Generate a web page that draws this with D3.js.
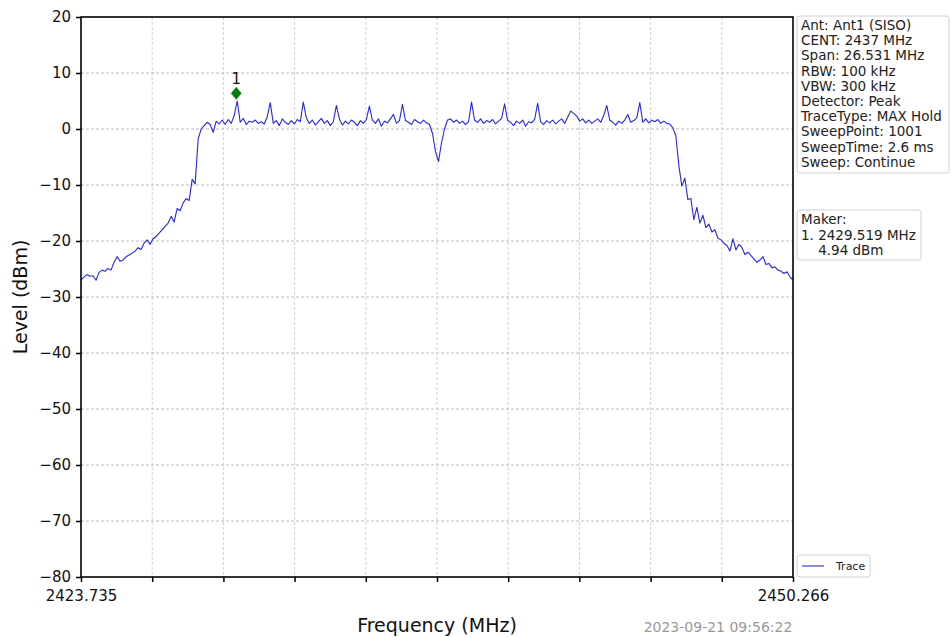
<!DOCTYPE html>
<html><head><meta charset="utf-8">
<script src="https://cdn.jsdelivr.net/npm/d3@7"></script>
<style>body{margin:0;background:#fff;} svg{display:block;font-family:"DejaVu Sans",sans-serif;}</style>
</head><body>
<svg id="chart" width="951" height="637"></svg>
<script>
const freqStart = 2423.735;
const freqStop = 2450.266;
const yTicks = [20, 10, 0, -10, -20, -30, -40, -50, -60, -70, -80];
const xTickCount = 10;
const xTickLabels = ["2423.735", "2450.266"];
const levels = [
 -27.0,-26.4,-26.0,-26.3,-26.2,-27.0,-25.6,-25.2,-25.4,-24.9,
 -25.2,-23.8,-22.8,-23.6,-23.4,-22.8,-22.5,-22.2,-21.8,-21.2,
 -21.5,-20.4,-19.8,-20.6,-19.6,-19.2,-18.6,-18.0,-17.4,-16.8,
 -15.6,-16.6,-14.2,-14.6,-13.2,-12.4,-12.8,-9.0,-9.8,-1.8,
 0.0,0.6,1.2,0.8,-0.6,1.4,0.9,1.6,0.8,1.7,
 1.0,2.4,5.0,1.2,1.9,0.8,1.4,1.2,1.6,1.0,
 1.3,0.9,2.2,4.7,1.0,1.5,0.6,1.8,1.2,0.8,
 1.5,0.9,1.7,1.3,4.8,2.0,1.0,1.6,0.7,1.3,
 1.9,1.0,1.5,0.6,1.3,4.2,1.8,0.7,1.4,0.9,
 1.6,1.2,0.6,1.5,1.0,1.7,4.1,1.6,1.0,1.8,
 0.5,1.4,1.1,1.8,2.6,1.0,1.5,4.4,1.5,1.2,
 0.8,1.7,1.3,1.0,1.6,1.1,0.8,-0.8,-4.0,-5.8,
 -2.5,0.0,1.6,1.8,1.2,1.6,1.0,1.4,0.8,1.3,
 4.8,1.6,1.2,1.8,1.0,1.5,1.2,1.7,0.9,1.4,
 1.9,4.5,1.5,1.2,0.6,1.4,1.0,1.6,0.5,1.3,
 1.1,1.7,4.6,1.3,0.8,1.5,1.1,1.6,0.9,1.4,
 1.8,1.0,2.1,3.2,2.8,2.3,1.4,1.8,1.1,1.6,
 1.0,1.4,1.8,1.2,2.4,4.2,1.6,1.2,0.7,1.4,
 1.0,1.6,2.6,1.2,1.5,2.0,4.7,1.2,1.8,1.1,
 1.6,1.3,1.7,1.0,1.4,1.0,0.9,0.2,-1.2,-6.5,
 -10.2,-8.8,-12.6,-12.4,-16.2,-14.0,-16.8,-15.4,-17.6,-17.0,
 -18.4,-18.0,-19.5,-19.8,-20.4,-20.8,-21.8,-19.6,-21.6,-20.6,
 -21.2,-22.4,-22.0,-22.6,-23.2,-23.8,-23.4,-22.8,-24.2,-24.0,
 -24.8,-24.6,-25.2,-25.4,-25.8,-25.5,-26.4,-27.0
];
const markerFreq = 2429.519;
const markerLevel = 4.94;
const infoLines = ["Ant: Ant1 (SISO)","CENT: 2437 MHz","Span: 26.531 MHz","RBW: 100 kHz","VBW: 300 kHz","Detector: Peak","TraceType: MAX Hold","SweepPoint: 1001","SweepTime: 2.6 ms","Sweep: Continue"];
const makerLines = ["Maker:","1. 2429.519 MHz","    4.94 dBm"];
const timestamp = "2023-09-21 09:56:22";

const svg = d3.select("#chart");
const L = 81, R = 793, T = 17, B = 577;
const x = d3.scaleLinear().domain([freqStart, freqStop]).range([L, R]);
const y = d3.scaleLinear().domain([-80, 20]).range([B, T]);
const step = (freqStop - freqStart) / (levels.length - 1);
const trace = levels.map((v, i) => [freqStart + i * step, v]);
const xTickVals = d3.range(xTickCount + 1).map(i => freqStart + i * (freqStop - freqStart) / xTickCount);
const fmtMinus = v => String(v).replace("-", "\u2212");

// grid
const g = svg.append("g");
g.selectAll("line.h").data(yTicks.slice(1, -1)).join("line")
  .attr("x1", L).attr("x2", R).attr("y1", d => y(d)).attr("y2", d => y(d))
  .attr("stroke", "#a8a8a8").attr("stroke-width", 0.8).attr("stroke-dasharray", "3,2");
g.selectAll("line.v").data(xTickVals.slice(1, -1)).join("line")
  .attr("y1", T).attr("y2", B).attr("x1", d => x(d)).attr("x2", d => x(d))
  .attr("stroke", "#c4c4c4").attr("stroke-width", 0.8).attr("stroke-dasharray", "3,2");

// trace
svg.append("path").datum(trace)
  .attr("d", d3.line().x(d => x(d[0])).y(d => y(d[1])))
  .attr("fill", "none").attr("stroke", "#2828dc").attr("stroke-width", 1.1).attr("stroke-linejoin", "round");

// axes
const yAxis = svg.append("g").attr("transform", `translate(${L},0)`)
  .call(d3.axisLeft(y).tickValues(yTicks).tickSize(5).tickPadding(5).tickFormat(fmtMinus));
const xAxis = svg.append("g").attr("transform", `translate(0,${B})`)
  .call(d3.axisBottom(x).tickValues(xTickVals).tickSize(5).tickPadding(8)
    .tickFormat((d, i) => i === 0 ? xTickLabels[0] : (i === xTickCount ? xTickLabels[1] : "")));
[yAxis, xAxis].forEach(a => {
  a.select(".domain").remove();
  a.selectAll("line").attr("stroke", "#000").attr("stroke-width", 1.5);
  a.selectAll("text").attr("font-size", 15).attr("fill", "#111").attr("font-family", "DejaVu Sans");
});
// frame
svg.append("rect").attr("x", L).attr("y", T).attr("width", R - L).attr("height", B - T)
  .attr("fill", "none").attr("stroke", "#000").attr("stroke-width", 1.6);

// marker
const mx = x(markerFreq), my = y(markerLevel) - 8;
svg.append("path").attr("d", `M${mx},${my - 6}L${mx + 5},${my}L${mx},${my + 6}L${mx - 5},${my}Z`)
  .attr("fill", "#008000").attr("stroke", "#006400").attr("stroke-width", 0.5);
svg.append("text").attr("x", mx).attr("y", my - 9).attr("text-anchor", "middle")
  .attr("font-size", 15).attr("fill", "#111").text("1");

// axis labels
svg.append("text").attr("x", (L + R) / 2).attr("y", 632).attr("text-anchor", "middle")
  .attr("font-size", 19).attr("fill", "#111").text("Frequency (MHz)");
svg.append("text").attr("transform", `translate(27,${(T + B) / 2}) rotate(-90)`).attr("text-anchor", "middle")
  .attr("font-size", 19).attr("fill", "#111").text("Level (dBm)");
svg.append("text").attr("x", 718).attr("y", 632).attr("text-anchor", "middle")
  .attr("font-size", 14).attr("fill", "#999").text(timestamp);

// info box
function box(x0, y0, w, h, lines, lh, fs, base) {
  svg.append("rect").attr("x", x0).attr("y", y0).attr("width", w).attr("height", h).attr("rx", 3)
    .attr("fill", "#fff").attr("stroke", "#d0d0d0").attr("stroke-width", 1);
  svg.append("g").selectAll("text").data(lines).join("text")
    .attr("x", x0 + 4).attr("y", (d, i) => y0 + base + i * lh)
    .attr("font-size", fs).attr("fill", "#222").attr("xml:space", "preserve").style("white-space", "pre").text(d => d);
}
box(797, 16, 152, 157, infoLines, 15.2, 13.5, 14);
box(797, 210, 124, 50, makerLines, 15.5, 13.5, 14);

// legend
svg.append("rect").attr("x", 797).attr("y", 555).attr("width", 73).attr("height", 22).attr("rx", 3)
  .attr("fill", "#fff").attr("stroke", "#d0d0d0");
svg.append("line").attr("x1", 802).attr("x2", 824).attr("y1", 566).attr("y2", 566)
  .attr("stroke", "#2828dc").attr("stroke-width", 1.1);
svg.append("text").attr("x", 836).attr("y", 570).attr("font-size", 11).attr("fill", "#222").text("Trace");
</script>
</body></html>
